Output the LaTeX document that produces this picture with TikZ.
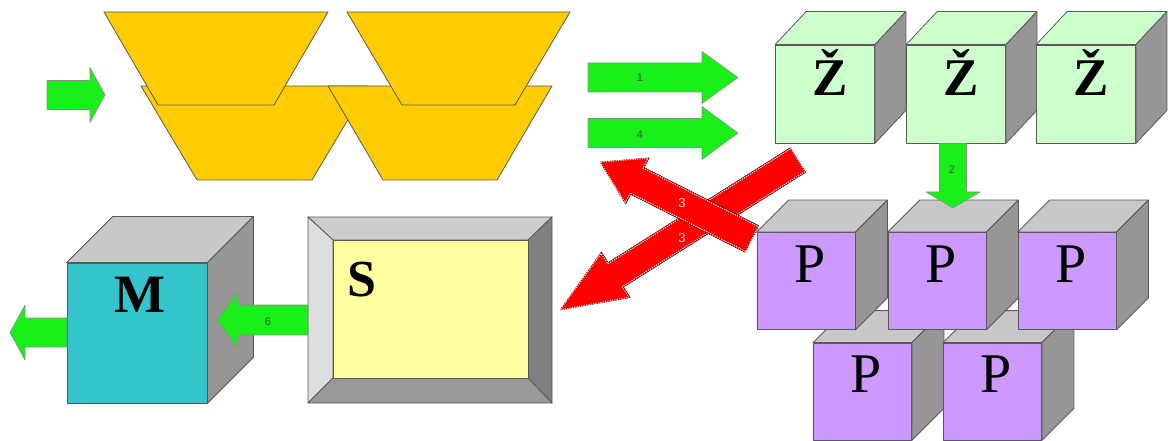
\documentclass[tikz,border=0pt]{standalone}
\usepackage{fontspec}
\setmainfont{Liberation Serif}
\newfontfamily\lsans{Liberation Sans}
\usetikzlibrary{calc}
\definecolor{trapY}{RGB}{255,204,0}
\definecolor{grn}{RGB}{25,240,25}
\definecolor{zfront}{RGB}{204,255,204}
\definecolor{pfront}{RGB}{204,153,255}
\definecolor{mfront}{RGB}{51,196,204}
\definecolor{gtop}{RGB}{200,200,200}
\definecolor{gside}{RGB}{150,150,150}
\definecolor{redA}{RGB}{255,0,0}
\definecolor{redline}{RGB}{255,215,215}
\definecolor{syel}{RGB}{255,255,160}
\definecolor{bandT}{RGB}{204,204,204}
\definecolor{bandL}{RGB}{222,222,222}
\definecolor{bandR}{RGB}{128,128,128}
\definecolor{bandB}{RGB}{153,153,153}
% block arrow: #1 style, #2 tail, #3 tip, #4 body half width, #5 head half width, #6 head length
\newcommand\blockarr[6]{%
  \coordinate (ba-base) at ($(#3)!#6!(#2)$);
  \draw[#1] ($(#2)!#4!90:(#3)$) -- ($(ba-base)!#4!90:(#3)$) -- ($(ba-base)!#5!90:(#3)$)
    -- (#3) -- ($(ba-base)!#5!-90:(#3)$) -- ($(ba-base)!#4!-90:(#3)$)
    -- ($(#2)!#4!-90:(#3)$) -- cycle;}
% cube: #1 name, #2 centre of front face, #3 front style, #4 depth vector, #5 top colour
\newcommand\mycube[5]{%
  \node[#3] (#1) at (#2) {};
  \draw[edge, fill=#5] (#1.north west) -- ++(#4) -- ($(#1.north east)+(#4)$) -- (#1.north east) -- cycle;
  \draw[edge, fill=gside] (#1.north east) -- ++(#4) -- ($(#1.south east)+(#4)$) -- (#1.south east) -- cycle;}
\begin{document}
\begin{tikzpicture}[x=1pt,y=-1pt,
  edge/.style={draw=black!65, line width=0.8pt, line join=round},
  trap/.style={edge, fill=trapY},
  garrow/.style={draw=black!45, line width=0.6pt, fill=grn, line join=round},
  rarrow/.style={fill=redA, line join=round},
  rline/.style={draw=redline, line width=1.1pt, dash pattern=on 1.2pt off 1.2pt, line join=round},
  zface/.style={edge, fill=zfront, minimum width=99pt, minimum height=98pt, inner sep=0pt},
  pface/.style={edge, fill=pfront, minimum width=98pt, minimum height=97pt, inner sep=0pt},
  mface/.style={edge, fill=mfront, minimum width=140pt, minimum height=140pt, inner sep=0pt},
  bigb/.style={inner sep=0pt, font=\fontsize{53}{53}\selectfont\bfseries},
  bigr/.style={inner sep=0pt, font=\fontsize{56}{56}\selectfont},
  small/.style={inner sep=0pt, font=\lsans\fontsize{11}{11}\selectfont, text=black!70},
  rlab/.style={inner sep=0pt, font=\lsans\fontsize{13}{13}\selectfont, text=redline}]
\useasboundingbox (0,0) rectangle (1171,441);

% ---- trapezoids
\draw[trap] (141,86) -- (368,86) -- (312,180) -- (197,180) -- cycle;
\draw[trap] (328,86) -- (552,86) -- (497,180) -- (383,180) -- cycle;
\draw[trap] (104,12) -- (328,12) -- (274,105) -- (158,105) -- cycle;
\draw[trap] (347,12) -- (570,12) -- (515,105) -- (402,105) -- cycle;

% ---- input arrow
\coordinate (in-t) at (47,95);
\coordinate (in-h) at (105,95);
\blockarr{garrow}{in-t}{in-h}{14.5pt}{27.5pt}{15pt}

% ---- arrows 1 and 4
\coordinate (a1-t) at (588,77.5);
\coordinate (a1-h) at (738,77.5);
\blockarr{garrow}{a1-t}{a1-h}{14.5pt}{26pt}{36pt}
\node[small] (l1) at (640,78) {1};
\coordinate (a4-t) at (588,133);
\coordinate (a4-h) at (738,133);
\blockarr{garrow}{a4-t}{a4-h}{14.5pt}{26.5pt}{36pt}
\node[small] (l4) at (640,135) {4};

% ---- Ž cubes
\mycube{z1}{825,94}{zface}{31,-33}{zfront}
\mycube{z2}{956,94}{zface}{31,-33}{zfront}
\mycube{z3}{1086,94}{zface}{31,-33}{zfront}
\node[bigb] (z1l) at ($(z1)+(5,-22)$) {Ž};
\node[bigb] (z2l) at ($(z2)+(5,-22)$) {Ž};
\node[bigb] (z3l) at ($(z3)+(5,-22)$) {Ž};

% ---- red arrows (filled, then pale dotted outline)
\coordinate (rb-t) at (798,160);
\coordinate (rb-h) at (560,310);
\blockarr{rarrow}{rb-t}{rb-h}{14.5pt}{27pt}{66pt}
\blockarr{rline}{rb-t}{rb-h}{13.5pt}{26pt}{65pt}
\coordinate (ra-t) at (752,239);
\coordinate (ra-h) at (600,162);
\blockarr{rarrow}{ra-t}{ra-h}{15pt}{26pt}{42pt}
\blockarr{rline}{ra-t}{ra-h}{14pt}{25pt}{41pt}
\node[rlab] (l3a) at (682,203) {3};
\node[rlab] (l3b) at (682,238) {3};

% ---- P cubes (back row first)
\mycube{p4}{862.5,391.5}{pface}{32,-32}{gtop}
\mycube{p5}{992.5,391.5}{pface}{32,-32}{gtop}
\mycube{p1}{806,281}{pface}{32,-32}{gtop}
\mycube{p2}{937,281}{pface}{32,-32}{gtop}
\mycube{p3}{1067,281}{pface}{32,-32}{gtop}
\foreach \c in {p1,p2,p3,p4,p5}{\node[bigr] at ($(\c)+(4,-17)$) {P};}

% ---- arrow 2
\coordinate (a2-t) at ($(z2.south)+(-3,0)$);
\coordinate (a2-h) at (953,208);
\blockarr{garrow}{a2-t}{a2-h}{13.5pt}{27pt}{16pt}
\node[small] (l2) at (952,170) {2};

% ---- M cube
\mycube{m}{137,333}{mface}{46,-46}{gtop}
\node[bigb, font=\fontsize{54}{54}\selectfont\bfseries] (ml) at (140,295) {M};

% ---- S box
\node[inner sep=0pt, minimum width=244pt, minimum height=186pt] (sbox) at (430,310) {};
\draw[edge, fill=bandT] (308,217) -- (552,217) -- (528,240) -- (333,240) -- cycle;
\draw[edge, fill=bandL] (308,217) -- (333,240) -- (333,378) -- (308,403) -- cycle;
\draw[edge, fill=bandR] (552,217) -- (552,403) -- (528,378) -- (528,240) -- cycle;
\draw[edge, fill=bandB] (308,403) -- (552,403) -- (528,378) -- (333,378) -- cycle;
\node[edge, fill=syel, minimum width=195pt, minimum height=138pt, inner sep=0pt] (s) at (430.5,309) {};
\node[bigb, font=\fontsize{52}{52}\selectfont\bfseries] (sl) at (362,279.5) {S};

% ---- arrow 6 and output arrow
\coordinate (a6-t) at (308,320);
\coordinate (a6-h) at (217,320);
\blockarr{garrow}{a6-t}{a6-h}{15pt}{27.5pt}{21pt}
\node[small] (l6) at (268,322) {6};
\coordinate (out-t) at (67,332.5);
\coordinate (out-h) at (10,332.5);
\blockarr{garrow}{out-t}{out-h}{14.5pt}{27.5pt}{15pt}
\end{tikzpicture}
\end{document}
